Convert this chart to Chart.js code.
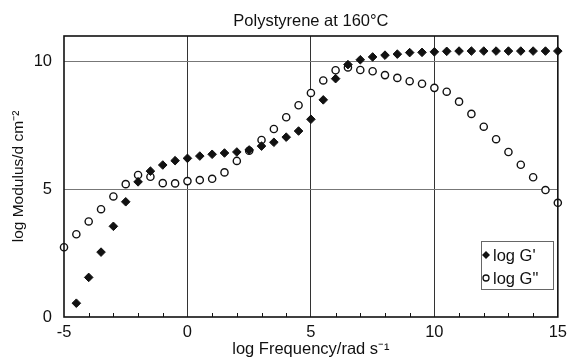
<!DOCTYPE html>
<html>
<head>
<meta charset="utf-8">
<script src="https://cdn.jsdelivr.net/npm/chart.js@4/dist/chart.umd.min.js"></script>
<style>
  html, body { margin: 0; padding: 0; background: #fff; }
  #wrap { width: 573px; height: 358px; }
</style>
</head>
<body>
<div id="wrap"><canvas id="chart" width="573" height="358"></canvas></div>
<script>
// log frequency (rad/s) values, every half decade
const logFreq = [-5, -4.5, -4, -3.5, -3, -2.5, -2, -1.5, -1, -0.5, 0, 0.5, 1, 1.5, 2, 2.5, 3, 3.5, 4, 4.5,
                 5, 5.5, 6, 6.5, 7, 7.5, 8, 8.5, 9, 9.5, 10, 10.5, 11, 11.5, 12, 12.5, 13, 13.5, 14, 14.5, 15];

// log G' (storage modulus), first point at -4.5
const logGp = [null, 0.54, 1.55, 2.54, 3.55, 4.51, 5.29, 5.71, 5.95, 6.12, 6.21, 6.30, 6.37, 6.42, 6.46, 6.54, 6.69, 6.84, 7.04, 7.28,
               7.74, 8.50, 9.33, 9.88, 10.07, 10.18, 10.25, 10.29, 10.35, 10.36, 10.38, 10.40, 10.41, 10.41, 10.41, 10.41, 10.41, 10.41, 10.41, 10.41, 10.41];

// log G'' (loss modulus)
const logGpp = [2.73, 3.24, 3.74, 4.22, 4.72, 5.20, 5.56, 5.49, 5.24, 5.23, 5.32, 5.36, 5.41, 5.66, 6.11, 6.51, 6.93, 7.36, 7.82, 8.29,
                8.77, 9.26, 9.66, 9.77, 9.67, 9.62, 9.47, 9.36, 9.23, 9.13, 8.97, 8.82, 8.43, 7.95, 7.45, 6.96, 6.46, 5.96, 5.47, 4.97, 4.47];

const xTicks = [-5, 0, 5, 10, 15];
const yTicks = [0, 5, 10];
const minorX = [-4, -3, -2, -1, 1, 2, 3, 4, 6, 7, 8, 9, 11, 12, 13, 14];
const seriesNames = ["log G'", 'log G"'];
const chartTitle = 'Polystyrene at 160°C';

const FONT = "'Liberation Sans', Arial, sans-serif";

function toPoints(ys) {
    return logFreq.map((x, i) => ({ x: x, y: ys[i] })).filter(p => p.y !== null);
}

// title over the plot area, frame, inward minor ticks and the legend box
const framePlugin = {
    id: 'frame',
    afterDraw(chart) {
        const { ctx, chartArea: a, scales } = chart;
        ctx.save();
        ctx.fillStyle = '#111';
        ctx.font = '16.5px ' + FONT;
        ctx.textAlign = 'center';
        ctx.textBaseline = 'alphabetic';
        ctx.fillText(chartTitle, (a.left + a.right) / 2, 26);

        ctx.strokeStyle = '#111';
        ctx.lineWidth = 1;
        ctx.beginPath();
        minorX.forEach(v => {
            const px = Math.round(scales.x.getPixelForValue(v)) + 0.5;
            ctx.moveTo(px, a.bottom);
            ctx.lineTo(px, a.bottom - 4);
        });
        ctx.stroke();
        ctx.lineWidth = 1.6;
        ctx.strokeRect(a.left, a.top, a.right - a.left, a.bottom - a.top);

        // legend
        const bx = 481, by = 241, bw = 72, bh = 48;
        ctx.fillStyle = '#fff';
        ctx.fillRect(bx, by, bw, bh);
        ctx.lineWidth = 1;
        ctx.strokeStyle = '#666';
        ctx.strokeRect(bx + 0.5, by + 0.5, bw, bh);
        ctx.font = '16.5px ' + FONT;
        ctx.textAlign = 'left';
        ctx.textBaseline = 'middle';
        ctx.fillStyle = '#111';
        const rows = [by + 14, by + 37];
        // diamond
        ctx.beginPath();
        ctx.moveTo(486, rows[0] - 4);
        ctx.lineTo(490, rows[0]);
        ctx.lineTo(486, rows[0] + 4);
        ctx.lineTo(482 + 0, rows[0]);
        ctx.closePath();
        ctx.fill();
        ctx.fillText(seriesNames[0], 493, rows[0] + 1);
        // circle
        ctx.beginPath();
        ctx.lineWidth = 1.3;
        ctx.strokeStyle = '#111';
        ctx.arc(486, rows[1], 3, 0, Math.PI * 2);
        ctx.stroke();
        ctx.fillText(seriesNames[1], 493, rows[1] + 1);
        ctx.restore();
    }
};

const ctx = document.getElementById('chart').getContext('2d');
new Chart(ctx, {
    type: 'scatter',
    data: {
        datasets: [{
            label: seriesNames[0],
            data: toPoints(logGp),
            pointStyle: 'rectRot',
            pointRadius: 4.3,
            backgroundColor: '#111',
            borderColor: '#111',
            borderWidth: 1,
            clip: false
        }, {
            label: seriesNames[1],
            data: toPoints(logGpp),
            pointStyle: 'circle',
            pointRadius: 3.6,
            backgroundColor: '#fff',
            borderColor: '#111',
            borderWidth: 1.4,
            clip: false
        }]
    },
    options: {
        responsive: false,
        animation: false,
        layout: { padding: { left: 0, right: 10, top: 36, bottom: 0 } },
        plugins: {
            legend: { display: false },
            tooltip: { enabled: false },
            title: { display: false }
        },
        scales: {
            x: {
                type: 'linear',
                min: -5,
                max: 15,
                afterBuildTicks: s => { s.ticks = xTicks.map(v => ({ value: v })); },
                afterFit: s => { s.height = 41; },
                ticks: { color: '#111', padding: 6, font: { family: FONT, size: 16.5 } },
                grid: {
                    drawTicks: false,
                    color: c => (c.tick.value === -5 || c.tick.value === 15) ? 'rgba(0,0,0,0)' : '#333',
                    lineWidth: 1
                },
                border: { display: false },
                title: {
                    display: true,
                    text: 'log Frequency/rad s⁻¹',
                    color: '#111',
                    font: { family: FONT, size: 16.5 },
                    padding: { top: 0, bottom: -1 }
                }
            },
            y: {
                type: 'linear',
                min: 0,
                max: 11,
                afterBuildTicks: s => { s.ticks = yTicks.map(v => ({ value: v })); },
                afterFit: s => { s.width = 64; },
                ticks: { color: '#111', padding: 12, font: { family: FONT, size: 16.5 } },
                grid: {
                    drawTicks: false,
                    color: c => c.tick.value === 0 ? 'rgba(0,0,0,0)' : '#777',
                    lineWidth: 1
                },
                border: { display: false },
                title: {
                    display: true,
                    text: 'log Modulus/d cm⁻²',
                    color: '#111',
                    font: { family: FONT, size: 15.5 },
                    padding: { top: 9, bottom: 0 }
                }
            }
        }
    },
    plugins: [framePlugin]
});
</script>
</body>
</html>
